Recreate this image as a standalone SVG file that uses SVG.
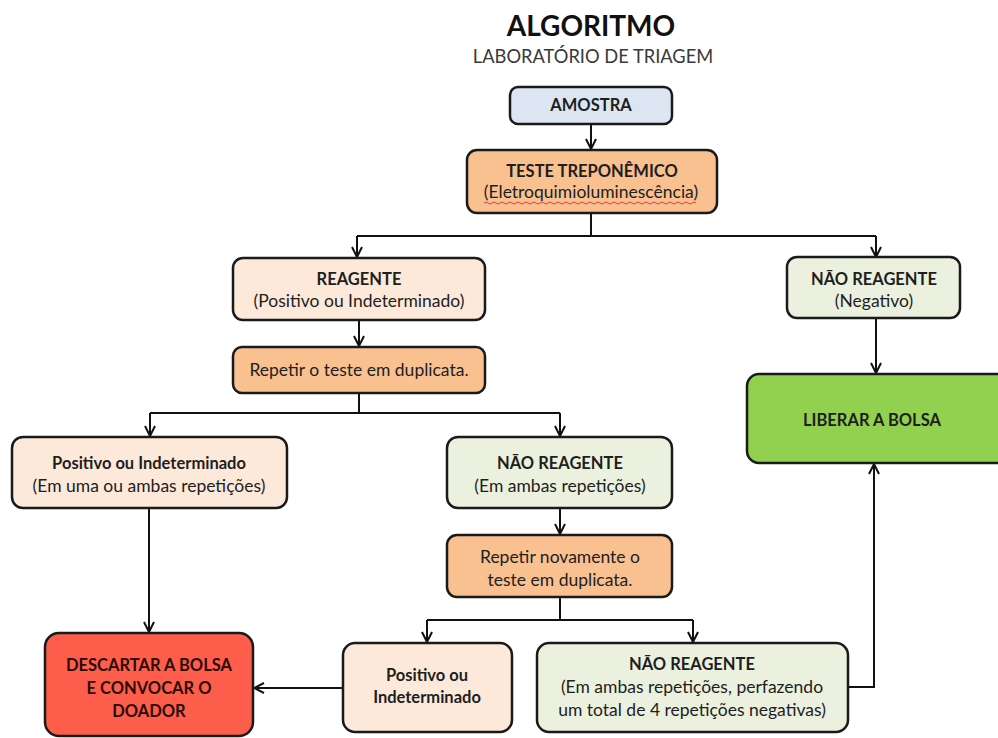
<svg xmlns="http://www.w3.org/2000/svg" width="998" height="738" viewBox="0 0 998 738">
  <defs>
    <style>
      text { font-family: Lato, "Liberation Sans", sans-serif; fill: #1e1e1e; text-anchor: middle; }
      .b { font-weight: bold; font-size: 16.5px; }
      .n { font-size: 17.5px; }
      .box { stroke: #1a1a1a; stroke-width: 2.5; }
      .blue { fill: #dce6f2; }
      .orange { fill: #f9c090; }
      .peach { fill: #fde9d9; }
      .mint { fill: #ebf1de; }
      .green { fill: #92d050; }
      .red { fill: #fd5e4b; }
      .wire { fill: none; stroke: #111; stroke-width: 2; }
    </style>
    <marker id="arr" viewBox="0 0 12 12" refX="11" refY="6" markerWidth="12" markerHeight="12" markerUnits="userSpaceOnUse" orient="auto">
      <path d="M1,1 L11,6 L1,11" fill="none" stroke="#111" stroke-width="2"/>
    </marker>
  </defs>

  <rect width="998" height="738" fill="#ffffff"/>

  <g id="title">
    <text x="591" y="36" style="font-size:28px;font-weight:bold;fill:#111">ALGORITMO</text>
    <text x="593" y="63" style="font-size:18.3px;fill:#3a3a3a">LABORATÓRIO DE TRIAGEM</text>
  </g>

  <g id="connectors">
    <path class="wire" d="M591,124 V149" marker-end="url(#arr)"/>
    <path class="wire" d="M591,213 V236 M357,236 H876"/>
    <path class="wire" d="M357,236 V257" marker-end="url(#arr)"/>
    <path class="wire" d="M876,236 V257" marker-end="url(#arr)"/>
    <path class="wire" d="M359,320 V346" marker-end="url(#arr)"/>
    <path class="wire" d="M359,393 V413 M150,413 H560"/>
    <path class="wire" d="M150,413 V436" marker-end="url(#arr)"/>
    <path class="wire" d="M560,413 V436" marker-end="url(#arr)"/>
    <path class="wire" d="M876,318 V373" marker-end="url(#arr)"/>
    <path class="wire" d="M149,508 V632" marker-end="url(#arr)"/>
    <path class="wire" d="M560,508 V534" marker-end="url(#arr)"/>
    <path class="wire" d="M560,597 V620 M427,620 H693"/>
    <path class="wire" d="M427,620 V642" marker-end="url(#arr)"/>
    <path class="wire" d="M693,620 V642" marker-end="url(#arr)"/>
    <path class="wire" d="M343,688 H254" marker-end="url(#arr)"/>
    <path class="wire" d="M848,687 H874 V464" marker-end="url(#arr)"/>
  </g>

  <g id="amostra">
    <rect class="box blue" x="510" y="87" width="162" height="37" rx="8"/>
    <text class="b" x="591" y="111">AMOSTRA</text>
  </g>

  <g id="teste-treponemico">
    <rect class="box orange" x="467" y="150" width="250" height="63" rx="10"/>
    <text class="b" x="592" y="177">TESTE TREPONÊMICO</text>
    <text class="n" x="591" y="198">(Eletroquimioluminescência)</text>
    <!-- wavy underline beneath the method name -->
    <path d="M484,203 q2,-2 4,0 t4,0 t4,0 t4,0 t4,0 t4,0 t4,0 t4,0 t4,0 t4,0 t4,0 t4,0 t4,0 t4,0 t4,0 t4,0 t4,0 t4,0 t4,0 t4,0 t4,0 t4,0 t4,0 t4,0 t4,0 t4,0 t4,0 t4,0 t4,0 t4,0 t4,0 t4,0 t4,0 t4,0 t4,0 t4,0 t4,0 t4,0 t4,0 t4,0 t4,0 t4,0 t4,0 t4,0 t4,0 t4,0 t4,0 t4,0 t4,0 t4,0 t4,0 t4,0 t4,0" fill="none" stroke="#e04040" stroke-width="1"/>
  </g>

  <g id="reagente">
    <rect class="box peach" x="233" y="258" width="252" height="62" rx="10"/>
    <text class="b" x="359" y="285">REAGENTE</text>
    <text class="n" x="359" y="307">(Positivo ou Indeterminado)</text>
  </g>

  <g id="nao-reagente-negativo">
    <rect class="box mint" x="787" y="257" width="173" height="61" rx="10"/>
    <text class="b" x="874" y="285">NÃO REAGENTE</text>
    <text class="n" x="874" y="307">(Negativo)</text>
  </g>

  <g id="repetir-duplicata">
    <rect class="box orange" x="233" y="347" width="252" height="46" rx="9"/>
    <text class="n" x="359" y="376">Repetir o teste em duplicata.</text>
  </g>

  <g id="liberar-bolsa">
    <rect class="box green" x="747" y="374" width="262" height="89" rx="12"/>
    <text class="b" x="872" y="426">LIBERAR A BOLSA</text>
  </g>

  <g id="positivo-repeticoes">
    <rect class="box peach" x="12" y="437" width="275" height="71" rx="11"/>
    <text class="b" x="149" y="469">Positivo ou Indeterminado</text>
    <text class="n" x="149" y="492">(Em uma ou ambas repetições)</text>
  </g>

  <g id="nao-reagente-ambas">
    <rect class="box mint" x="447" y="437" width="225" height="71" rx="11"/>
    <text class="b" x="560" y="469">NÃO REAGENTE</text>
    <text class="n" x="560" y="492">(Em ambas repetições)</text>
  </g>

  <g id="repetir-novamente">
    <rect class="box orange" x="447" y="535" width="225" height="62" rx="10"/>
    <text class="n" x="560" y="563">Repetir novamente o</text>
    <text class="n" x="560" y="586">teste em duplicata.</text>
  </g>

  <g id="descartar-bolsa">
    <rect class="box red" x="45" y="633" width="208" height="103" rx="14"/>
    <text class="b" x="149" y="671" style="fill:#2a0a05">DESCARTAR A BOLSA</text>
    <text class="b" x="149" y="694" style="fill:#2a0a05">E CONVOCAR O</text>
    <text class="b" x="149" y="717" style="fill:#2a0a05">DOADOR</text>
  </g>

  <g id="positivo-final">
    <rect class="box peach" x="343" y="643" width="169" height="89" rx="12"/>
    <text class="b" x="427" y="681">Positivo ou</text>
    <text class="b" x="427" y="703">Indeterminado</text>
  </g>

  <g id="nao-reagente-final">
    <rect class="box mint" x="537" y="643" width="311" height="89" rx="12"/>
    <text class="b" x="692" y="670">NÃO REAGENTE</text>
    <text class="n" x="692" y="693">(Em ambas repetições, perfazendo</text>
    <text class="n" x="692" y="716">um total de 4 repetições negativas)</text>
  </g>
</svg>
